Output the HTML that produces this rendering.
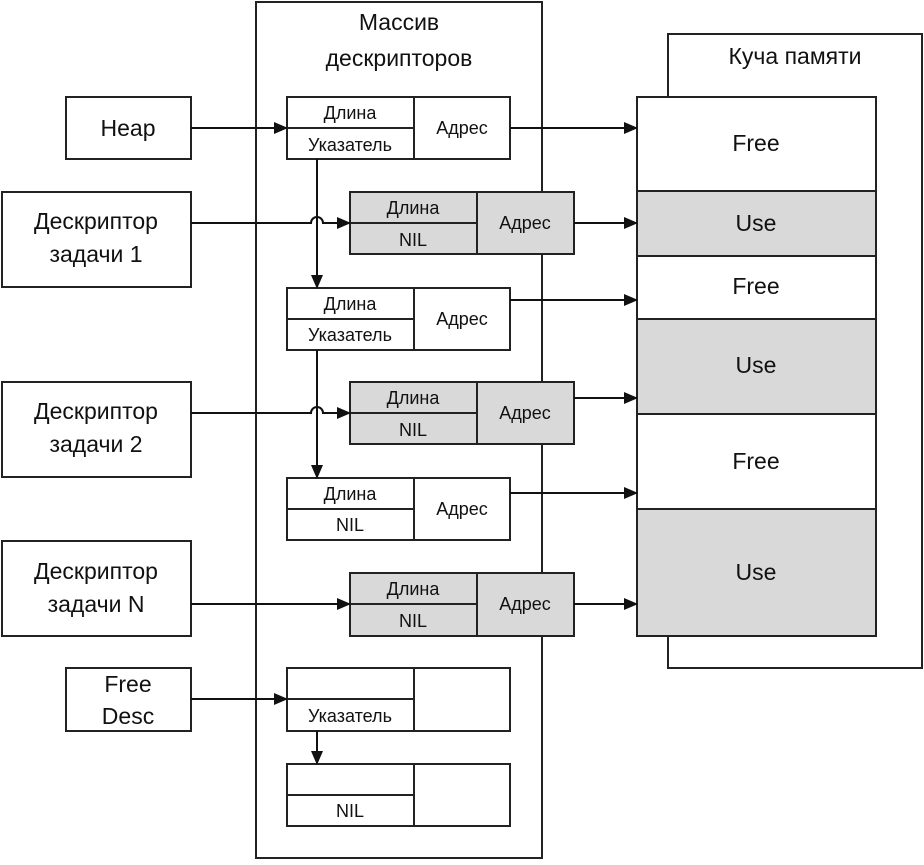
<!DOCTYPE html>
<html><head><meta charset="utf-8"><style>
body{margin:0;background:#fff}
svg text{font-family:"Liberation Sans","DejaVu Sans",sans-serif;fill:#111}
</style></head><body>
<svg width="924" height="860" viewBox="0 0 924 860" xmlns="http://www.w3.org/2000/svg">
<defs><marker id="a" markerWidth="14" markerHeight="12" refX="13" refY="6" orient="auto" markerUnits="userSpaceOnUse"><path d="M0,0 L14,6 L0,12 z" fill="#111"/></marker></defs>
<g stroke="#222" stroke-width="2" fill="#fff">
<rect x="256" y="2" width="286" height="856"/>
<rect x="668" y="34" width="254" height="634"/>
<rect x="637" y="97" width="239" height="94"/>
<rect x="637" y="191" width="239" height="65" fill="#d9d9d9"/>
<rect x="637" y="256" width="239" height="63"/>
<rect x="637" y="319" width="239" height="95" fill="#d9d9d9"/>
<rect x="637" y="414" width="239" height="95"/>
<rect x="637" y="509" width="239" height="127" fill="#d9d9d9"/>
<rect x="66" y="97" width="125" height="62"/>
<rect x="2" y="192" width="189" height="95"/>
<rect x="2" y="382" width="189" height="95"/>
<rect x="2" y="541" width="189" height="95"/>
<rect x="66" y="668" width="125" height="63"/>
<rect x="287" y="97" width="223" height="62"/><line x1="287" y1="128" x2="414" y2="128"/><line x1="414" y1="97" x2="414" y2="159"/>
<rect x="287" y="288" width="223" height="62"/><line x1="287" y1="319" x2="414" y2="319"/><line x1="414" y1="288" x2="414" y2="350"/>
<rect x="287" y="478" width="223" height="62"/><line x1="287" y1="509" x2="414" y2="509"/><line x1="414" y1="478" x2="414" y2="540"/>
<rect x="287" y="668" width="223" height="63"/><line x1="287" y1="699" x2="414" y2="699"/><line x1="414" y1="668" x2="414" y2="731"/>
<rect x="287" y="764" width="223" height="62"/><line x1="287" y1="795" x2="414" y2="795"/><line x1="414" y1="764" x2="414" y2="826"/>
<rect x="350" y="192" width="224" height="62" fill="#d9d9d9"/><line x1="350" y1="223" x2="477" y2="223"/><line x1="477" y1="192" x2="477" y2="254"/>
<rect x="350" y="382" width="224" height="62" fill="#d9d9d9"/><line x1="350" y1="413" x2="477" y2="413"/><line x1="477" y1="382" x2="477" y2="444"/>
<rect x="350" y="573" width="224" height="63" fill="#d9d9d9"/><line x1="350" y1="604" x2="477" y2="604"/><line x1="477" y1="573" x2="477" y2="636"/>
</g>
<g stroke="#111" stroke-width="2" fill="none" marker-end="url(#a)">
<line x1="191" y1="128" x2="287" y2="128"/>
<line x1="510" y1="128" x2="637" y2="128"/>
<path d="M191,223 H311 A6,6 0 0 1 323,223 H350"/>
<line x1="574" y1="223" x2="637" y2="223"/>
<line x1="317" y1="159" x2="317" y2="288"/>
<line x1="510" y1="300" x2="637" y2="300"/>
<path d="M191,413 H311 A6,6 0 0 1 323,413 H350"/>
<line x1="574" y1="398" x2="637" y2="398"/>
<line x1="317" y1="350" x2="317" y2="478"/>
<line x1="510" y1="493" x2="637" y2="493"/>
<line x1="191" y1="604" x2="350" y2="604"/>
<line x1="574" y1="604" x2="637" y2="604"/>
<line x1="191" y1="699" x2="287" y2="699"/>
<line x1="317" y1="731" x2="317" y2="764"/>
</g>
<g font-size="23" text-anchor="middle">
<text x="399" y="30">Массив</text><text x="399" y="66">дескрипторов</text>
<text x="795" y="64">Куча памяти</text>
<text x="128" y="136">Heap</text>
<text x="96" y="229">Дескриптор</text><text x="96" y="262">задачи 1</text>
<text x="96" y="419">Дескриптор</text><text x="96" y="452">задачи 2</text>
<text x="96" y="579">Дескриптор</text><text x="96" y="612">задачи N</text>
<text x="128" y="692">Free</text><text x="128" y="724">Desc</text>
<text x="756" y="151">Free</text><text x="756" y="231">Use</text>
<text x="756" y="294">Free</text><text x="756" y="373">Use</text>
<text x="756" y="469">Free</text><text x="756" y="580">Use</text>
</g>
<g font-size="18" text-anchor="middle">
<text x="350" y="119">Длина</text><text x="350" y="151">Указатель</text><text x="462" y="134">Адрес</text>
<text x="350" y="310">Длина</text><text x="350" y="341">Указатель</text><text x="462" y="325">Адрес</text>
<text x="350" y="500">Длина</text><text x="350" y="531">NIL</text><text x="462" y="515">Адрес</text>
<text x="350" y="722">Указатель</text>
<text x="350" y="817">NIL</text>
<text x="413" y="214">Длина</text><text x="413" y="246">NIL</text><text x="525" y="229">Адрес</text>
<text x="413" y="404">Длина</text><text x="413" y="436">NIL</text><text x="525" y="419">Адрес</text>
<text x="413" y="595">Длина</text><text x="413" y="627">NIL</text><text x="525" y="610">Адрес</text>
</g>
</svg>
</body></html>
